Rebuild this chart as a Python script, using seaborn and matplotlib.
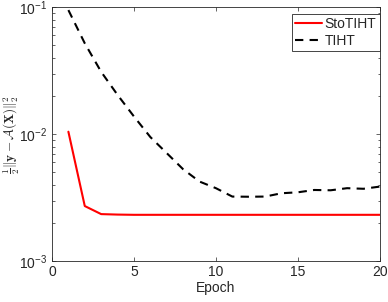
import numpy as np
import pandas as pd
import matplotlib
matplotlib.use("Agg")
import matplotlib.pyplot as plt
import seaborn as sns

# values
epochs = list(range(1, 21))
sto_tiht = [0.01047, 0.00272, 0.00235, 0.00233, 0.00232, 0.00232, 0.00232, 0.00232,
            0.00232, 0.00232, 0.00232, 0.00232, 0.00232, 0.00232, 0.00232, 0.00232,
            0.00232, 0.00232, 0.00232, 0.00232]
tiht = [0.095, 0.052, 0.031, 0.0204, 0.0138, 0.0095, 0.0071, 0.0053,
        0.00424, 0.00376, 0.00323, 0.00322, 0.00323, 0.00343, 0.00349, 0.00364,
        0.00362, 0.00376, 0.00372, 0.00387]

sns.set_style("ticks")
plt.rcParams['font.family'] = ['Liberation Sans', 'DejaVu Sans']
plt.rcParams['mathtext.fontset'] = 'cm'

fig = plt.figure(figsize=(3.88, 3.02), dpi=100)
ax = fig.add_axes([0.134, 0.135, 0.845, 0.841])

sns.lineplot(x=epochs, y=sto_tiht, color="red", linewidth=1.5, label="StoTIHT", ax=ax)
sns.lineplot(x=epochs, y=tiht, color="black", linewidth=1.5, linestyle=(0, (4, 3)),
             label="TIHT", ax=ax)

ax.set_yscale("log")
ax.set_xlim(0, 20)
ax.set_ylim(1e-3, 1e-1)
ax.set_xticks([0, 5, 10, 15, 20])
ax.set_xlabel("Epoch", fontsize=10, labelpad=1)
ax.set_ylabel(r"$\frac{1}{2}\|\mathbf{y}-\mathcal{A}(\mathbf{X})\|_2^2$", fontsize=9.5)
ax.yaxis.set_label_coords(-0.093, 0.5)

for s in ax.spines.values():
    s.set_visible(True)
    s.set_color("#262626")
    s.set_linewidth(0.6)
ax.tick_params(which="both", direction="in", top=True, right=True,
               colors="#262626", labelsize=10, width=0.5)
ax.tick_params(which="major", length=3)
ax.tick_params(which="minor", length=1.8)
ax.tick_params(axis="x", pad=3)

leg = ax.legend(loc="upper right", bbox_to_anchor=(1.0, 0.975), fontsize=10,
                frameon=True, fancybox=False, borderaxespad=0.0,
                handlelength=1.9, handletextpad=0.2,
                borderpad=0.25, labelspacing=0.2)
leg.get_frame().set_edgecolor("#262626")
leg.get_frame().set_linewidth(0.6)
leg.get_frame().set_alpha(1)

fig.savefig("out.png", dpi=100)
